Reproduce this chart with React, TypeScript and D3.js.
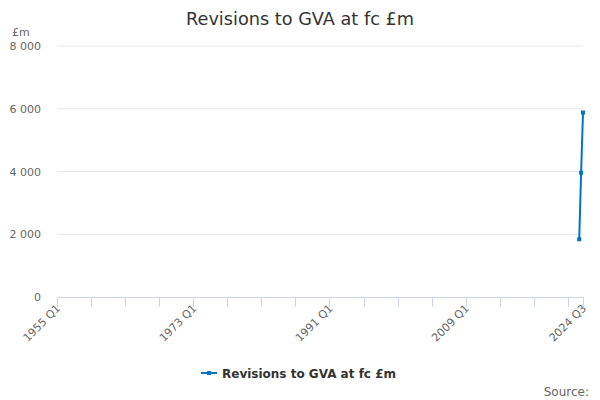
import React from "react";
import * as d3 from "d3";

const startYear = 1955;
const endYear = 2024;
const endQuarter = 3;
const seriesName = "Revisions to GVA at fc £m";
// Only the last three quarters carry values
const valuedQuarters = ["2024 Q1", "2024 Q2", "2024 Q3"];
const valuedValues = [1840, 3960, 5880];
const yTicks = [0, 2000, 4000, 6000, 8000];
const xTickLabels = ["1955 Q1", "1973 Q1", "1991 Q1", "2009 Q1", "2024 Q3"];

const categories: string[] = [];
for (let y = startYear; y <= endYear; y++) {
  for (let q = 1; q <= 4; q++) {
    if (y === endYear && q > endQuarter) break;
    categories.push(`${y} Q${q}`);
  }
}

const W = 600, H = 400;
const left = 57, right = 583, top = 46, bottom = 297;
const font = "DejaVu Sans, Verdana, sans-serif";

export default function App() {
  const x = d3.scaleLinear().domain([0, categories.length - 1]).range([left, right]);
  const y = d3.scaleLinear().domain([0, 8000]).range([bottom, top]);
  const pts = valuedQuarters.map((c, i) => ({ i: categories.indexOf(c), v: valuedValues[i] }));
  const line = d3.line<{ i: number; v: number }>().x(d => x(d.i)).y(d => y(d.v));
  const tickIdx: number[] = [];
  for (let i = 0; i < categories.length; i += 18) tickIdx.push(i);
  tickIdx.push(categories.length - 1);
  const fmt = (v: number) => d3.format(",")(v).replace(/,/g, " ");
  return (
    <svg width={W} height={H} style={{ position: "absolute", left: 0, top: 0 }} fontFamily={font}>
      <rect width={W} height={H} fill="#fff" />
      <text x={300} y={25} textAnchor="middle" fontSize={17.7} fill="#333">{seriesName}</text>
      <text x={12} y={36} fontSize={11} fill="#666">£m</text>
      {yTicks.map(t => (
        <g key={t}>
          {t !== 0 && <line x1={left} x2={right} y1={y(t)} y2={y(t)} stroke="#e6e6e6" />}
          <text x={41} y={y(t) + 4} textAnchor="end" fontSize={11} fill="#666">{fmt(t)}</text>
        </g>
      ))}
      <line x1={left} x2={right} y1={bottom + 0.5} y2={bottom + 0.5} stroke="#ccd6eb" />
      {tickIdx.map(i => (
        <line key={i} x1={Math.round(x(i)) + 0.5} x2={Math.round(x(i)) + 0.5} y1={bottom} y2={bottom + 10} stroke="#ccd6eb" />
      ))}
      {tickIdx.filter(i => xTickLabels.includes(categories[i])).map(i => (
        <text key={i} transform={`translate(${x(i) + 4},${bottom + 12}) rotate(-45)`} textAnchor="end" fontSize={11} fill="#666">{categories[i]}</text>
      ))}
      <path d={line(pts) || ""} fill="none" stroke="#0075c2" strokeWidth={2} />
      {pts.map(p => (
        <rect key={p.i} x={x(p.i) - 2} y={y(p.v) - 2} width={4} height={4} fill="#0075c2" />
      ))}
      <g>
        <line x1={201} x2={217} y1={373} y2={373} stroke="#0075c2" strokeWidth={2} />
        <rect x={207} y={371} width={4} height={4} fill="#0075c2" />
        <text x={222} y={378} fontSize={12} fontWeight="bold" fill="#333">{seriesName}</text>
      </g>
      <text x={589} y={396} textAnchor="end" fontSize={12} fill="#666">Source:</text>
    </svg>
  );
}
